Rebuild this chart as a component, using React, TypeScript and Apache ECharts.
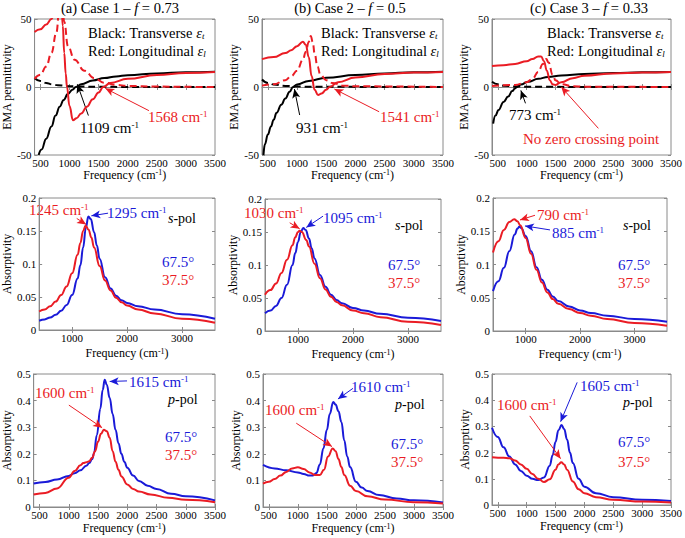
import React, { useEffect, useRef } from "react";
import * as echarts from "echarts";

type P = [number, number][];

const FONT = "'Liberation Serif', 'Times New Roman', serif";
const RED = "#ea1c24";
const BLUE = "#1a1ad8";
const BLACK = "#000000";
const FRAME = "#8a8a8a";

// ---------- Row 1: EMA permittivity (x: frequency cm-1, y: permittivity) ----------
const aEpsTRe: P = [[470,-50],[520,-46],[600,-38],[690,-29],[760,-21],[832,-14.5],[900,-9.5],[974,-5],[1050,-2],[1109,0],[1200,2],[1400,4.8],[1600,6.6],[1800,7.8],[2000,8.7],[2500,10],[3000,10.8],[3500,11.3]];
const aEpsTIm: P = [[400,6.5],[500,4.5],[600,3],[700,2],[800,1.3],[1000,0.6],[1200,0.3],[1500,0.15],[2000,0.05],[3500,0]];
const aEpsLRe: P = [[400,40.5],[500,42.5],[600,46],[690,50],[760,58],[820,70],[860,62],[885,45],[910,25],[935,10],[957,0],[1000,-14],[1060,-24.5],[1120,-23],[1200,-19.5],[1300,-14.5],[1400,-9],[1500,-4],[1580,0],[1700,3],[2000,6],[2500,8.8],[3000,10.3],[3500,11]];
const aEpsLIm: P = [[400,6],[500,9],[600,15],[690,25],[775,40],[830,60],[870,66],[910,48],[974,30],[1087,20],[1257,12],[1428,6.4],[1598,3.2],[1800,1.6],[2000,0.8],[2500,0.3],[3000,0.1],[3500,0]];

const bEpsTRe: P = [[425,-50],[450,-42],[500,-35],[554,-29],[600,-24],[650,-19],[730,-13],[800,-8.5],[873,-3.5],[931,0],[1000,1.8],[1200,4.5],[1500,6.8],[2000,8.8],[2500,10],[3000,10.8],[3500,11.3]];
const bEpsTIm: P = [[400,5.5],[500,3],[600,1.8],[800,0.8],[1000,0.3],[1500,0.1],[3500,0]];
const bEpsLRe: P = [[400,20.5],[600,22],[800,25],[900,27],[1000,30],[1100,33.3],[1150,31],[1200,22],[1250,8],[1300,-2],[1360,-5.8],[1420,-4.8],[1500,-2],[1558,0],[1700,3.5],[2000,7],[2500,9.5],[3000,10.6],[3500,11]];
const bEpsLIm: P = [[400,1],[600,2],[800,5],[900,8],[1000,12],[1100,20],[1150,26],[1200,33],[1235,37.5],[1270,33],[1300,25],[1350,15],[1400,9],[1500,5],[1600,3],[1800,1],[2000,0.5],[3500,0]];

const cEpsTRe: P = [[420,-27],[460,-21],[512,-17],[600,-11],[680,-7],[750,-3],[800,-1],[825,0],[900,1.8],[1025,3.9],[1200,6],[1369,7.4],[1600,8.5],[2000,9.6],[2500,10.3],[3000,10.8],[3500,11.1]];
const cEpsTIm: P = [[400,3.8],[500,2],[600,1],[800,0.4],[1000,0.1],[3500,0]];
const cEpsLRe: P = [[400,15.5],[600,16],[800,17],[1000,19],[1100,20.5],[1200,22.5],[1250,22.5],[1300,19],[1350,12],[1400,5],[1450,2],[1500,1.5],[1600,3.5],[1800,6.5],[2000,8.3],[2500,10],[3000,10.6],[3500,11]];
const cEpsLIm: P = [[400,0.8],[800,1.5],[1000,3.5],[1100,6],[1200,11],[1280,17],[1340,20.5],[1380,18],[1450,9],[1500,5],[1600,2],[1800,0.5],[2000,0.2],[3500,0]];

// ---------- Row 2: s-pol absorptivity ----------
const aS675: P = [[400,0.014],[500,0.016],[600,0.019],[700,0.023],[800,0.029],[900,0.038],[1000,0.053],[1100,0.078],[1150,0.098],[1200,0.125],[1250,0.155],[1295,0.172],[1340,0.168],[1400,0.148],[1450,0.128],[1500,0.108],[1600,0.08],[1700,0.063],[1800,0.052],[1900,0.045],[2000,0.041],[2200,0.036],[2500,0.031],[3000,0.024],[3600,0.017]];
const aS375: P = [[400,0.028],[500,0.031],[600,0.036],[700,0.043],[800,0.053],[900,0.066],[1000,0.086],[1100,0.114],[1150,0.132],[1200,0.15],[1245,0.158],[1300,0.152],[1350,0.14],[1400,0.125],[1500,0.097],[1600,0.075],[1700,0.06],[1800,0.049],[1900,0.042],[2000,0.037],[2200,0.031],[2500,0.025],[3000,0.017],[3600,0.011]];
const bS675: P = [[400,0.027],[500,0.031],[600,0.038],[700,0.05],[800,0.07],[900,0.1],[950,0.118],[1000,0.135],[1050,0.15],[1095,0.156],[1140,0.153],[1200,0.14],[1250,0.125],[1300,0.11],[1400,0.085],[1500,0.067],[1600,0.055],[1700,0.047],[1800,0.042],[2000,0.035],[2200,0.031],[2500,0.026],[3000,0.02],[3600,0.015]];
const bS375: P = [[400,0.055],[500,0.062],[600,0.072],[700,0.088],[800,0.108],[900,0.13],[950,0.142],[1000,0.15],[1030,0.152],[1070,0.15],[1150,0.138],[1200,0.128],[1300,0.102],[1400,0.08],[1500,0.063],[1600,0.052],[1700,0.044],[1800,0.039],[2000,0.031],[2200,0.027],[2500,0.021],[3000,0.014],[3600,0.009]];
const cS675: P = [[400,0.06],[500,0.075],[600,0.095],[700,0.12],[800,0.145],[850,0.154],[885,0.157],[920,0.155],[1000,0.143],[1100,0.12],[1200,0.096],[1300,0.077],[1400,0.062],[1500,0.052],[1600,0.045],[1800,0.037],[2000,0.031],[2200,0.027],[2500,0.023],[3000,0.018],[3600,0.014]];
const cS375: P = [[400,0.118],[500,0.135],[600,0.152],[700,0.164],[790,0.168],[850,0.165],[900,0.159],[1000,0.14],[1100,0.116],[1200,0.092],[1300,0.073],[1400,0.058],[1500,0.048],[1600,0.041],[1800,0.033],[2000,0.027],[2200,0.023],[2500,0.018],[3000,0.012],[3600,0.008]];

// ---------- Row 3: p-pol absorptivity ----------
const aP675: P = [[400,0.088],[600,0.094],[800,0.103],[1000,0.117],[1100,0.127],[1200,0.138],[1300,0.155],[1350,0.165],[1400,0.18],[1430,0.2],[1480,0.27],[1540,0.37],[1580,0.44],[1615,0.478],[1650,0.46],[1700,0.41],[1750,0.35],[1800,0.29],[1850,0.24],[1900,0.2],[1950,0.17],[2000,0.148],[2100,0.118],[2200,0.098],[2350,0.08],[2500,0.068],[2750,0.05],[3000,0.04],[3500,0.025]];
const aP375: P = [[400,0.047],[600,0.053],[800,0.07],[1000,0.11],[1100,0.135],[1200,0.157],[1250,0.165],[1300,0.168],[1350,0.172],[1400,0.185],[1450,0.21],[1500,0.245],[1550,0.275],[1600,0.29],[1650,0.285],[1700,0.26],[1750,0.21],[1800,0.17],[1850,0.14],[1900,0.115],[2000,0.085],[2100,0.068],[2200,0.058],[2400,0.047],[2700,0.035],[3000,0.027],[3500,0.018]];
const bP675: P = [[400,0.158],[600,0.145],[800,0.138],[1000,0.13],[1100,0.124],[1200,0.118],[1260,0.118],[1320,0.128],[1380,0.16],[1440,0.22],[1500,0.29],[1550,0.35],[1610,0.395],[1650,0.385],[1700,0.36],[1750,0.32],[1800,0.25],[1850,0.19],[1900,0.15],[2000,0.095],[2100,0.073],[2200,0.06],[2400,0.045],[2700,0.032],[3000,0.025],[3500,0.017]];
const bP375: P = [[400,0.088],[500,0.095],[600,0.105],[700,0.118],[800,0.132],[900,0.145],[1000,0.149],[1100,0.143],[1200,0.13],[1300,0.12],[1380,0.12],[1450,0.14],[1520,0.19],[1600,0.22],[1650,0.21],[1700,0.18],[1750,0.15],[1800,0.12],[1900,0.08],[2000,0.06],[2200,0.04],[2500,0.028],[3000,0.018],[3500,0.013]];
const cP675: P = [[400,0.295],[500,0.26],[600,0.22],[700,0.185],[800,0.155],[900,0.13],[1000,0.112],[1100,0.1],[1200,0.095],[1300,0.105],[1400,0.15],[1450,0.19],[1500,0.24],[1550,0.285],[1605,0.305],[1650,0.29],[1700,0.25],[1750,0.2],[1800,0.16],[1900,0.1],[2000,0.07],[2200,0.045],[2500,0.03],[3000,0.02],[3500,0.015]];
const cP375: P = [[400,0.182],[600,0.18],[700,0.178],[800,0.17],[900,0.155],[1000,0.138],[1100,0.118],[1200,0.1],[1300,0.088],[1400,0.098],[1500,0.135],[1550,0.155],[1600,0.163],[1650,0.155],[1700,0.135],[1800,0.09],[1900,0.06],[2000,0.045],[2200,0.03],[2500,0.02],[3000,0.013],[3500,0.01]];

// tick values
const xTicksWide = [500, 1000, 1500, 2000, 2500, 3000, 3500];
const xTicksS = [1000, 2000, 3000];

// annotation arrows: [from, to, color] in data units
type Arrow = [[number, number], [number, number], string];
const arrows: Arrow[][] = [
  [[[1325, -21], [1135, 2], BLACK], [[2365, -17.4], [1615, -1], RED]],
  [[[1045, -20.6], [955, -1.5], BLACK], [[2406, -18.2], [1640, -1.5], RED]],
  [[[980, -12], [900, -2.5], BLACK], [[2242, -30.4], [1600, 0], RED]],
  [[[1084, 0.169], [1255, 0.16], RED], [[1654, 0.177], [1350, 0.173], BLUE]],
  [[[849, 0.164], [1030, 0.155], RED], [[1455, 0.174], [1150, 0.157], BLUE]],
  [[[1172, 0.174], [896, 0.167], RED], [[1448, 0.152], [988, 0.158], BLUE]],
  [[[1996, 0.474], [1700, 0.472], BLUE], [[1002, 0.383], [1570, 0.298], RED]],
  [[[1949, 0.446], [1691, 0.406], BLUE], [[973, 0.315], [1588, 0.227], RED]],
  [[[1875, 0.468], [1588, 0.318], BLUE], [[1054, 0.34], [1588, 0.177], RED]],
];

type S = { data: P; color: string; dashed?: boolean };
const panelSeries: S[][] = [
  [{ data: aEpsTRe, color: BLACK }, { data: aEpsTIm, color: BLACK, dashed: true }, { data: aEpsLIm, color: RED, dashed: true }, { data: aEpsLRe, color: RED }],
  [{ data: bEpsTRe, color: BLACK }, { data: bEpsTIm, color: BLACK, dashed: true }, { data: bEpsLIm, color: RED, dashed: true }, { data: bEpsLRe, color: RED }],
  [{ data: cEpsTRe, color: BLACK }, { data: cEpsTIm, color: BLACK, dashed: true }, { data: cEpsLIm, color: RED, dashed: true }, { data: cEpsLRe, color: RED }],
  [{ data: aS675, color: BLUE }, { data: aS375, color: RED }],
  [{ data: bS675, color: BLUE }, { data: bS375, color: RED }],
  [{ data: cS675, color: BLUE }, { data: cS375, color: RED }],
  [{ data: aP675, color: BLUE }, { data: aP375, color: RED }],
  [{ data: bP675, color: BLUE }, { data: bP375, color: RED }],
  [{ data: cP675, color: BLUE }, { data: cP375, color: RED }],
];

const gridRects = [
  [33, 19, 182, 136], [262, 19, 181, 136], [492, 19, 180, 136],
  [37, 198, 178, 132], [265, 199, 176, 132], [493, 198, 174, 133],
  [33, 374, 182, 133], [263, 374, 180, 133], [492, 374, 180, 131],
];

function richSet(size: number, color: string) {
  return {
    n: { fontFamily: FONT, fontSize: size, fill: color },
    s: { fontFamily: FONT, fontSize: Math.round(size * 0.62), fill: color, verticalAlign: "top" },
    i: { fontFamily: FONT, fontSize: size, fill: color, fontStyle: "italic" },
    sub: { fontFamily: FONT, fontSize: Math.round(size * 0.62), fill: color, fontStyle: "italic", verticalAlign: "bottom" },
  };
}

function txt(x: number, y: number, text: string, color: string, size: number, align = "left") {
  return {
    type: "text",
    x,
    y,
    silent: true,
    style: {
      text,
      fill: color,
      fontFamily: FONT,
      fontSize: size,
      align,
      verticalAlign: "middle",
      rich: richSet(size, color),
    },
  };
}

function cm(v: string) {
  return `{n|${v} cm}{s|-1}`;
}

export default function App() {
  const ref = useRef<HTMLDivElement>(null);
  useEffect(() => {
    if (!ref.current) return;
    const chart = echarts.init(ref.current, undefined, { renderer: "svg" });
    const grids: any[] = [];
    const xAxes: any[] = [];
    const yAxes: any[] = [];
    const series: any[] = [];
    const axisNameRich = {
      n: { fontFamily: FONT, fontSize: 12, color: "#000" },
      s: { fontFamily: FONT, fontSize: 8, color: "#000", verticalAlign: "top" },
    };
    gridRects.forEach((r, i) => {
      const row = Math.floor(i / 3);
      grids.push({ left: r[0], top: r[1], width: r[2], height: r[3], show: true, borderColor: FRAME, borderWidth: 1, backgroundColor: "transparent" });
      const xmin = 400;
      const xmax = row === 1 ? 3600 : 3500;
      const ticks = row === 1 ? xTicksS : xTicksWide;
      const ymin = row === 0 ? -50 : 0;
      const ymax = row === 0 ? 50 : row === 1 ? 0.2 : 0.5;
      const yint = row === 0 ? 50 : row === 1 ? 0.05 : 0.1;
      const xNameGap = row === 0 ? 11 : row === 1 ? 17 : 15;
      const yName = row === 0 ? "EMA permittivity" : "Absorptivity";
      const yNameGap = row === 1 ? 20 : 16;
      xAxes.push({
        type: "value", gridIndex: i, min: xmin, max: xmax, position: "bottom",
        axisLine: { show: true, lineStyle: { color: FRAME, width: 1 } },
        axisTick: { show: true, inside: true, length: 3, customValues: ticks, lineStyle: { color: FRAME } },
        axisLabel: { show: true, customValues: ticks, color: "#000", fontFamily: FONT, fontSize: 11, margin: 2, formatter: (v: number) => String(v) },
        splitLine: { show: false },
        name: "{n|Frequency (cm}{s|-1}{n|)}", nameLocation: "middle", nameGap: xNameGap,
        nameTextStyle: { rich: axisNameRich, fontFamily: FONT, fontSize: 12, color: "#000" },
      });
      xAxes.push({
        type: "value", gridIndex: i, min: xmin, max: xmax, position: "top",
        axisLine: { show: false },
        axisTick: { show: true, inside: true, length: 3, customValues: ticks, lineStyle: { color: FRAME } },
        axisLabel: { show: false },
        splitLine: { show: false },
      });
      yAxes.push({
        type: "value", gridIndex: i, min: ymin, max: ymax, interval: yint, position: "left",
        axisLine: { show: true, lineStyle: { color: FRAME, width: 1 } },
        axisTick: { show: true, inside: true, length: 3, lineStyle: { color: FRAME } },
        axisLabel: { show: true, color: "#000", fontFamily: FONT, fontSize: 11, margin: 3, formatter: (v: number) => String(Math.round(v * 1000) / 1000) },
        splitLine: { show: false },
        name: yName, nameLocation: "middle", nameGap: yNameGap, nameRotate: 90,
        nameTextStyle: { fontFamily: FONT, fontSize: 12, color: "#000" },
      });
      yAxes.push({
        type: "value", gridIndex: i, min: ymin, max: ymax, interval: yint, position: "right",
        axisLine: { show: false },
        axisTick: { show: true, inside: true, length: 3, lineStyle: { color: FRAME } },
        axisLabel: { show: false },
        splitLine: { show: false },
      });
      panelSeries[i].forEach((s, k) => {
        const ser: any = {
          type: "line", xAxisIndex: 2 * i, yAxisIndex: 2 * i, data: s.data,
          showSymbol: false, symbol: "none", smooth: 0.45, smoothMonotone: "x", clip: true, silent: true,
          lineStyle: { color: s.color, width: 2, type: s.dashed ? [7, 4] : "solid" },
          itemStyle: { color: s.color }, z: 2 + k,
        };
        if (k === 0) {
          ser.markLine = {
            silent: true, symbol: ["none", "arrow"], symbolSize: [6, 9], animation: false,
            label: { show: false },
            data: arrows[i].map((a) => [
              { coord: a[0], lineStyle: { color: a[2], width: 1, type: "solid" } },
              { coord: a[1], itemStyle: { color: a[2] } },
            ]),
          };
        }
        series.push(ser);
      });
    });

    const titles = [
      { x: 120, t: "(a) Case 1 – {i|f} = 0.73" },
      { x: 350, t: "(b) Case 2 – {i|f} = 0.5" },
      { x: 589, t: "(c) Case 3 – {i|f} = 0.33" },
    ];
    const graphics: any[] = [];
    titles.forEach((t) => graphics.push(txt(t.x, 8, t.t, BLACK, 14.5, "center")));
    [88, 321, 547].forEach((x) => {
      graphics.push(txt(x, 33, "Black: Transverse {i|ε}{sub|t}", BLACK, 14.5));
      graphics.push(txt(x, 51, "Red: Longitudinal {i|ε}{sub|l}", BLACK, 14.5));
    });
    graphics.push(txt(80, 128, cm("1109"), BLACK, 15));
    graphics.push(txt(148, 117, cm("1568"), RED, 15));
    graphics.push(txt(296, 128, cm("931"), BLACK, 15));
    graphics.push(txt(380, 117, cm("1541"), RED, 15));
    graphics.push(txt(509, 115, cm("773"), BLACK, 15));
    graphics.push(txt(523, 139, "No zero crossing point", RED, 15));

    graphics.push(txt(29, 210, cm("1245"), RED, 15));
    graphics.push(txt(107, 213, cm("1295"), BLUE, 15));
    graphics.push(txt(168, 218, "{i|s}-pol", BLACK, 14));
    graphics.push(txt(244, 213, cm("1030"), RED, 15));
    graphics.push(txt(323, 218, cm("1095"), BLUE, 15));
    graphics.push(txt(395, 225, "{i|s}-pol", BLACK, 14));
    graphics.push(txt(537, 215, cm("790"), RED, 15));
    graphics.push(txt(552, 233, cm("885"), BLUE, 15));
    graphics.push(txt(623, 225, "{i|s}-pol", BLACK, 14));
    [[162, 262, 280], [388, 265, 283], [618, 265, 283]].forEach(([x, y1, y2]) => {
      graphics.push(txt(x, y1, "67.5°", BLUE, 15));
      graphics.push(txt(x, y2, "37.5°", RED, 15));
    });

    graphics.push(txt(129, 382, cm("1615"), BLUE, 15));
    graphics.push(txt(35, 393, cm("1600"), RED, 15));
    graphics.push(txt(168, 399, "{i|p}-pol", BLACK, 14));
    graphics.push(txt(351, 387, cm("1610"), BLUE, 15));
    graphics.push(txt(265, 410, cm("1600"), RED, 15));
    graphics.push(txt(395, 404, "{i|p}-pol", BLACK, 14));
    graphics.push(txt(580, 386, cm("1605"), BLUE, 15));
    graphics.push(txt(497, 405, cm("1600"), RED, 15));
    graphics.push(txt(623, 402, "{i|p}-pol", BLACK, 14));
    [[165, 437, 455], [391, 444, 462], [618, 442, 462]].forEach(([x, y1, y2]) => {
      graphics.push(txt(x, y1, "67.5°", BLUE, 15));
      graphics.push(txt(x, y2, "37.5°", RED, 15));
    });

    chart.setOption({
      animation: false,
      backgroundColor: "#ffffff",
      textStyle: { fontFamily: FONT },
      grid: grids,
      xAxis: xAxes,
      yAxis: yAxes,
      series,
      graphic: graphics,
    });
    return () => chart.dispose();
  }, []);
  return <div ref={ref} style={{ position: "absolute", left: 0, top: 0, width: 685, height: 538 }} />;
}
